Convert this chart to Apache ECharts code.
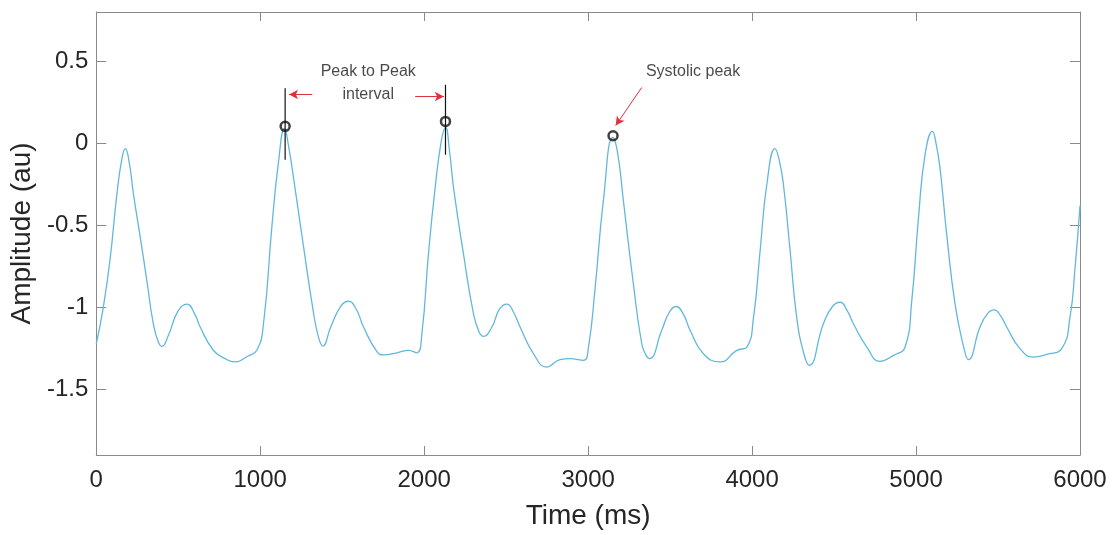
<!DOCTYPE html>
<html>
<head>
<meta charset="utf-8">
<script src="https://cdn.jsdelivr.net/npm/echarts@6/dist/echarts.min.js"></script>
<style>html,body{margin:0;padding:0;background:#fff}#c{width:1116px;height:535px}</style>
</head>
<body>
<div id="c"></div>
<script>
// Signal samples
const timeMs = [0,43,85,126,157,177,200,227,268,309,348,378,401,440,500,553,600,634,713,780,848,920,980,1020,1071,1112,1148,1175,1203,1262,1323,1355,1382,1430,1490,1538,1585,1630,1712,1752,1834,1904,1955,1986,2026,2067,2104,2130,2155,2179,2240,2301,2335,2362,2413,2460,2504,2545,2585,2667,2748,2829,2890,2971,3002,3043,3093,3151,3180,3215,3276,3327,3352,3374,3449,3495,3537,3580,3622,3703,3805,3907,3968,4009,4049,4090,4140,4165,4191,4232,4272,4315,4348,4435,4490,4537,4580,4618,4700,4780,4862,4933,4974,5015,5055,5100,5122,5146,5187,5238,5290,5319,5390,5435,5476,5515,5553,5634,5715,5797,5888,5939,5970,6000];
const amplitude = [-1.222,-1.00,-0.70,-0.31,-0.09,-0.033,-0.11,-0.31,-0.57,-0.84,-1.10,-1.21,-1.238,-1.17,-1.02,-0.98,-1.04,-1.12,-1.26,-1.31,-1.333,-1.30,-1.26,-1.10,-0.51,-0.11,0.09,-0.03,-0.21,-0.615,-1.02,-1.18,-1.236,-1.12,-0.995,-0.963,-1.01,-1.12,-1.27,-1.29,-1.277,-1.262,-1.277,-1.16,-0.676,-0.27,0.012,0.097,-0.05,-0.27,-0.676,-1.04,-1.15,-1.177,-1.12,-1.01,-0.98,-1.03,-1.12,-1.283,-1.364,-1.319,-1.313,-1.323,-1.242,-0.878,-0.35,0.035,-0.06,-0.35,-0.858,-1.222,-1.29,-1.313,-1.14,-1.03,-0.995,-1.04,-1.14,-1.283,-1.333,-1.262,-1.242,-1.06,-0.655,-0.25,-0.033,-0.1,-0.25,-0.655,-1.06,-1.28,-1.353,-1.10,-0.995,-0.969,-1.02,-1.10,-1.242,-1.329,-1.293,-1.242,-0.959,-0.453,-0.069,0.073,0.0,-0.15,-0.555,-0.98,-1.24,-1.319,-1.12,-1.04,-1.016,-1.05,-1.12,-1.252,-1.303,-1.287,-1.252,-1.06,-0.757,-0.38];

// Axis ticks
const xTicks = [0,1000,2000,3000,4000,5000,6000];
const yTicks = [-1.5,-1,-0.5,0,0.5];

// Annotations (data units)
const peakMarkers = [[1152,0.103],[2130,0.133],[3152,0.046]];
const intervalBars = [[[1152,0.336],[1152,-0.10]],[[2130,0.356],[2130,-0.07]]];
const arrows = [[[1317,0.297],[1176,0.297]],[[1945,0.285],[2120,0.285]],[[3327,0.34],[3168,0.108]]];
const notes = [[1659,0.437,'Peak to Peak'],[1659,0.295,'interval'],[3640,0.437,'Systolic peak']];

const axisColor = '#8a8a8a';
const textColor = '#262626';
const font = 'Liberation Sans, Arial, sans-serif';

const chart = echarts.init(document.getElementById('c'), null, {renderer:'canvas'});
const xBase = {type:'value', min:0, max:6000, interval:1000,
  axisLine:{show:true,onZero:false,lineStyle:{color:axisColor,width:1}},
  axisTick:{show:true,inside:true,length:9,lineStyle:{color:axisColor}},
  splitLine:{show:false}};
const yBase = {type:'value', min:-1.9, max:0.8,
  axisLine:{show:true,onZero:false,lineStyle:{color:axisColor,width:1}},
  axisTick:{show:true,inside:true,length:10,customValues:yTicks,lineStyle:{color:axisColor}},
  splitLine:{show:false}};

chart.setOption({
  animation:false,
  backgroundColor:'#fff',
  grid:{left:96, top:12, right:36, bottom:78, containLabel:false},
  xAxis:[
    Object.assign({}, xBase, {position:'bottom', name:'Time (ms)', nameLocation:'middle', nameGap:47,
      nameTextStyle:{fontSize:28, color:textColor, fontFamily:font},
      axisLabel:{show:true, margin:13, fontSize:24, color:textColor, fontFamily:font, customValues:xTicks,
        formatter:v=>String(v)}}),
    Object.assign({}, xBase, {position:'top', axisLabel:{show:false}})
  ],
  yAxis:[
    Object.assign({}, yBase, {position:'left', name:'Amplitude (au)', nameLocation:'middle', nameGap:57,
      nameTextStyle:{fontSize:28, color:textColor, fontFamily:font},
      axisLabel:{show:true, margin:8, fontSize:24, color:textColor, fontFamily:font, customValues:yTicks,
        formatter:v=>String(v)}}),
    Object.assign({}, yBase, {position:'right', axisLabel:{show:false}})
  ],
  series:[
    {type:'line', data:timeMs.map((t,i)=>[t,amplitude[i]]), showSymbol:false, smooth:0.5,
     lineStyle:{color:'#62b8da', width:1.3}, z:2},
    {type:'line', data:intervalBars[0], showSymbol:false, lineStyle:{color:'#111',width:1.2}, z:3},
    {type:'line', data:intervalBars[1], showSymbol:false, lineStyle:{color:'#111',width:1.2}, z:3},
    {type:'scatter', data:peakMarkers, symbol:'circle', symbolSize:9,
     itemStyle:{color:'rgba(255,255,255,0)', borderColor:'#111', borderWidth:2.5}, z:4},
    {type:'line', data:[], showSymbol:false, z:5,
     markLine:{silent:true, symbol:['none','arrow'], symbolSize:[7,9],
       lineStyle:{color:'#e0303c', width:1, type:'solid'}, label:{show:false},
       data:arrows.map(a=>[{coord:a[0]},{coord:a[1]}])}},
    {type:'scatter', data:notes.map(n=>[n[0],n[1],n[2]]), symbolSize:0, z:6,
     label:{show:true, position:'inside', formatter:p=>p.data[2], fontSize:16, color:'#1a1a1a', fontFamily:font}}
  ]
});
</script>
</body>
</html>
